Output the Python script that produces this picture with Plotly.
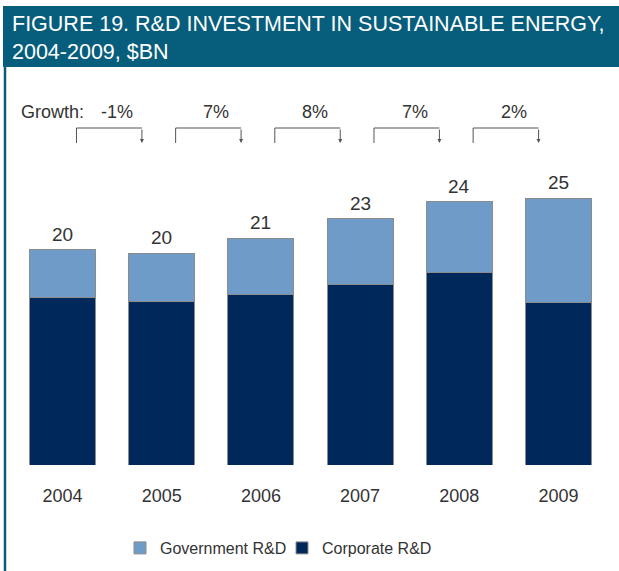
import plotly.graph_objects as go

years = ['2004', '2005', '2006', '2007', '2008', '2009']
corporate = [15.6, 15.2, 15.9, 16.8, 17.9, 15.1]
government = [4.4, 4.5, 5.2, 6.1, 6.6, 9.7]
total_labels = ['20', '20', '21', '23', '24', '25']
growth_labels = ['-1%', '7%', '8%', '7%', '2%']

GOV = '#6E9BC8'
CORP = '#00285B'
TEAL = '#075D7C'
TXT = '#333333'
FONT = 'Liberation Sans, Arial, sans-serif'

W, H = 619, 571
ML, MR, MT, MB = 13, 11, 100, 106
PW = W - ML - MR
PH = H - MT - MB
YMAX = 33.95

def px2py(py):
    return (H - MB - py) / PH

def px2px(px):
    return (px - ML) / PW

def py2data(py):
    return (H - MB - py) / PH * YMAX

fig = go.Figure()
fig.add_trace(go.Bar(x=years, y=corporate, name='Corporate R&D',
                     marker=dict(color=CORP, line=dict(color='#8C8C8C', width=1)),
                     legendrank=2))
fig.add_trace(go.Bar(x=years, y=government, name='Government R&D',
                     marker=dict(color=GOV, line=dict(color='#8C8C8C', width=1)),
                     legendrank=1))

annotations = []
shapes = []
# totals
for i, (c, g, lab) in enumerate(zip(corporate, government, total_labels)):
    annotations.append(dict(x=i, y=c + g, xref='x', yref='y', text=lab, showarrow=False,
                            yanchor='bottom', yshift=3,
                            font=dict(size=19, color=TXT, family=FONT)))

# growth brackets
ytop = py2data(128)
ybot = py2data(143)
ytext = py2data(112)
for i, lab in enumerate(growth_labels):
    xl = i + 0.14
    xr = i + 1 - 0.2
    shapes.append(dict(type='line', xref='x', yref='y', x0=xl, x1=xl, y0=ybot, y1=ytop,
                       line=dict(color='#555555', width=1)))
    shapes.append(dict(type='line', xref='x', yref='y', x0=xl, x1=xr, y0=ytop, y1=ytop,
                       line=dict(color='#555555', width=1)))
    annotations.append(dict(x=xr, y=ybot, ax=xr, ay=ytop, xref='x', yref='y',
                            axref='x', ayref='y', showarrow=True, arrowhead=2,
                            arrowsize=0.8, arrowwidth=1, arrowcolor='#555555', text=''))
    annotations.append(dict(x=i + 0.55, y=ytext, xref='x', yref='y', text=lab,
                            showarrow=False, yanchor='middle',
                            font=dict(size=18, color=TXT, family=FONT)))

annotations.append(dict(x=px2px(19), y=ytext, xref='paper', yref='y', text='Growth:',
                        showarrow=False, xanchor='left', yanchor='middle',
                        font=dict(size=18, color=TXT, family=FONT)))

# header band
shapes.append(dict(type='rect', xref='paper', yref='paper', x0=px2px(3), x1=px2px(619),
                   y0=px2py(67), y1=px2py(6), fillcolor=TEAL, line=dict(width=0),
                   layer='below'))
shapes.append(dict(type='line', xref='paper', yref='paper', x0=px2px(5), x1=px2px(5),
                   y0=px2py(67), y1=px2py(571), line=dict(color=TEAL, width=2.5)))
annotations.append(dict(x=px2px(10), y=px2py(38), xref='paper', yref='paper',
                        text='FIGURE 19. R&D INVESTMENT IN SUSTAINABLE ENERGY,<br>2004-2009, $BN',
                        showarrow=False, xanchor='left', yanchor='middle', align='left',
                        font=dict(size=21.5, color='white', family=FONT)))

fig.update_layout(
    width=W, height=H,
    margin=dict(l=ML, r=MR, t=MT, b=MB, pad=0, autoexpand=False),
    barmode='stack', bargap=0.335,
    plot_bgcolor='white', paper_bgcolor='white',
    font=dict(family=FONT, color=TXT),
    xaxis=dict(type='category', showgrid=False, showline=False, zeroline=False,
               automargin=False,
               ticks='outside', ticklen=14, tickcolor='rgba(0,0,0,0)',
               tickfont=dict(size=18, color=TXT, family=FONT), range=[-0.5, 5.5]),
    yaxis=dict(range=[0, YMAX], visible=False, showgrid=False, zeroline=False,
               automargin=False),
    legend=dict(orientation='h', x=px2px(120), xanchor='left',
                yref='container', y=1 - 548 / H, yanchor='middle',
                entrywidth=117,
                font=dict(size=16, color=TXT, family=FONT), traceorder='normal'),
    shapes=shapes, annotations=annotations,
)

fig.write_html('out.html', config={'displayModeBar': False},
               post_script="document.body.style.margin='0';")
